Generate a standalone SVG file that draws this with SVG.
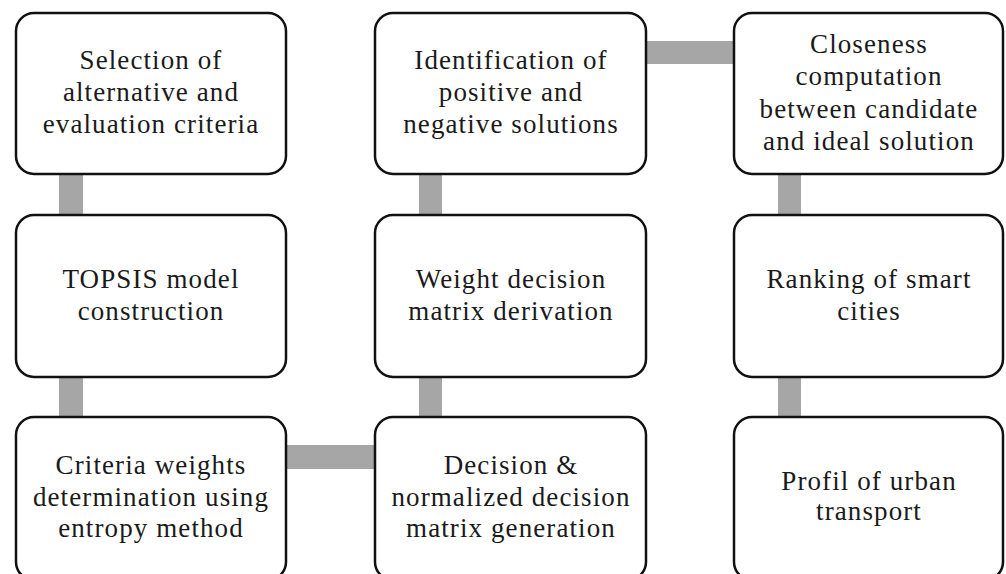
<svg xmlns="http://www.w3.org/2000/svg" width="1006" height="574" viewBox="0 0 1006 574">
<style>
.box{fill:#fff;stroke:#111;stroke-width:2.5}
.bar{fill:#a6a6a6}
text{font-family:"Liberation Serif","Times New Roman",serif;font-size:27px;letter-spacing:1.1px;fill:#1a1a1a;text-anchor:middle}
</style>
<rect x="0" y="0" width="1006" height="574" fill="#fff"/>
<g id="connectors">
<rect class="bar" x="59" y="170" width="24" height="50"/>
<rect class="bar" x="59" y="372" width="24" height="50"/>
<rect class="bar" x="280" y="445" width="100" height="24"/>
<rect class="bar" x="419" y="372" width="23" height="50"/>
<rect class="bar" x="419" y="170" width="23" height="50"/>
<rect class="bar" x="640" y="41" width="100" height="23"/>
<rect class="bar" x="778" y="170" width="23" height="50"/>
<rect class="bar" x="778" y="372" width="23" height="50"/>
</g>
<g id="n1">
<rect class="box" x="16" y="13" width="270" height="161" rx="18"/>
<text x="151" y="69">Selection of</text>
<text x="151" y="101">alternative and</text>
<text x="151" y="133">evaluation criteria</text>
</g>
<g id="n2">
<rect class="box" x="16" y="215" width="270" height="162" rx="18"/>
<text x="151" y="288">TOPSIS model</text>
<text x="151" y="320">construction</text>
</g>
<g id="n3">
<rect class="box" x="16" y="417" width="270" height="163" rx="18"/>
<text x="151" y="474">Criteria weights</text>
<text x="151" y="506">determination using</text>
<text x="151" y="537">entropy method</text>
</g>
<g id="n4">
<rect class="box" x="375" y="417" width="271" height="163" rx="18"/>
<text x="511" y="474">Decision &amp;</text>
<text x="511" y="506">normalized decision</text>
<text x="511" y="537">matrix generation</text>
</g>
<g id="n5">
<rect class="box" x="375" y="215" width="271" height="162" rx="18"/>
<text x="511" y="288">Weight decision</text>
<text x="511" y="320">matrix derivation</text>
</g>
<g id="n6">
<rect class="box" x="375" y="13" width="271" height="161" rx="18"/>
<text x="511" y="69">Identification of</text>
<text x="511" y="101">positive and</text>
<text x="511" y="133">negative solutions</text>
</g>
<g id="n7">
<rect class="box" x="734" y="13" width="269" height="161" rx="18"/>
<text x="869" y="53">Closeness</text>
<text x="869" y="85">computation</text>
<text x="869" y="118">between candidate</text>
<text x="869" y="150">and ideal solution</text>
</g>
<g id="n8">
<rect class="box" x="734" y="215" width="269" height="162" rx="18"/>
<text x="869" y="288">Ranking of smart</text>
<text x="869" y="320">cities</text>
</g>
<g id="n9">
<rect class="box" x="734" y="417" width="269" height="163" rx="18"/>
<text x="869" y="490">Profil of urban</text>
<text x="869" y="520">transport</text>
</g>
</svg>
